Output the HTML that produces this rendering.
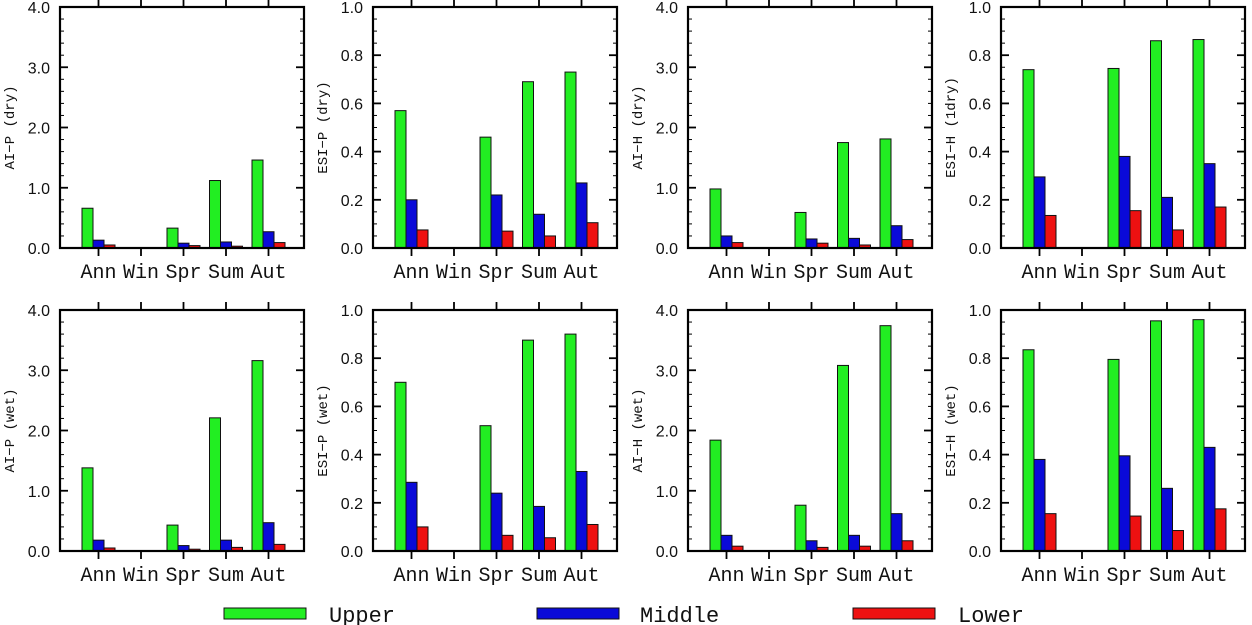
<!DOCTYPE html>
<html><head><meta charset="utf-8"><style>
body{margin:0;background:#fff;width:1252px;height:625px;overflow:hidden}
svg{display:block}
.tk{font-family:"Liberation Sans",sans-serif;font-size:16px;fill:#111}
.cat{font-family:"Liberation Mono",monospace;font-size:20px;fill:#111}
.yt{font-family:"Liberation Mono",monospace;font-size:14px;fill:#111}
.lg{font-family:"Liberation Mono",monospace;font-size:22px;fill:#111}
</style></head><body>
<svg id="c" width="1252" height="625"></svg>
<script>
const categories=["Ann","Win","Spr","Sum","Aut"];
const titles=["AI−P (dry)","ESI−P (dry)","AI−H (dry)","ESI−H (1dry)","AI−P (wet)","ESI−P (wet)","AI−H (wet)","ESI−H (wet)"];
const yMaxes=[4,1,4,1,4,1,4,1];
const upper=[[0.66,0,0.33,1.12,1.46],[0.57,0,0.46,0.69,0.73],[0.98,0,0.59,1.75,1.81],[0.74,0,0.745,0.86,0.865],
[1.38,0,0.43,2.21,3.16],[0.70,0,0.52,0.875,0.90],[1.84,0,0.76,3.08,3.74],[0.835,0,0.795,0.955,0.96]];
const middle=[[0.13,0,0.08,0.10,0.27],[0.20,0,0.22,0.14,0.27],[0.20,0,0.15,0.16,0.37],[0.295,0,0.38,0.21,0.35],
[0.18,0,0.09,0.18,0.47],[0.285,0,0.24,0.185,0.33],[0.26,0,0.17,0.26,0.62],[0.38,0,0.395,0.26,0.43]];
const lower=[[0.05,0,0.04,0.03,0.09],[0.075,0,0.07,0.05,0.105],[0.09,0,0.08,0.05,0.14],[0.135,0,0.155,0.075,0.17],
[0.05,0,0.03,0.06,0.11],[0.10,0,0.065,0.055,0.11],[0.08,0,0.06,0.08,0.17],[0.155,0,0.145,0.085,0.175]];
const seriesNames=["Upper","Middle","Lower"];
const colors=["#22ee22","#0a0ad8","#ee1111"];
const NS="http://www.w3.org/2000/svg";
const svg=document.getElementById('c');
function mk(tag,attrs,parent){const e=document.createElementNS(NS,tag);for(const k in attrs)e.setAttribute(k,attrs[k]);(parent||svg).appendChild(e);return e;}
const lefts=[60,373,688,1001],tops=[7,310],W=244,H=241;
for(let p=0;p<8;p++){
  const L=lefts[p%4],T=tops[Math.floor(p/4)],B=T+H,R=L+W,ym=yMaxes[p];
  const g=mk('g',{});
  
  
  const y=v=>B-v/ym*H;
  const x=i=>L+38.5+i*42.5;
  const data=[upper[p],middle[p],lower[p]];
  for(let s=0;s<3;s++)for(let i=0;i<5;i++){
    const v=data[s][i];if(v<=0)continue;
    const r=mk('rect',{x:x(i)-16.5+s*11,y:y(v),width:11,height:B-y(v),fill:colors[s],stroke:'#111','stroke-width':1},g);
    
    
  }
  mk('rect',{x:L,y:T,width:W,height:H,fill:'none',stroke:'#000','stroke-width':2.2},g);
  const maj=ym==4?1:0.2,min=ym==4?0.2:0.05;
  for(let v=0;v<=ym+1e-9;v+=min){
    const isM=Math.abs(v/maj-Math.round(v/maj))<1e-6,len=isM?8:4;
    mk('line',{x1:L,x2:L+len,y1:y(v),y2:y(v),stroke:'#000','stroke-width':isM?1.8:1},g);
    mk('line',{x1:R,x2:R-len,y1:y(v),y2:y(v),stroke:'#000','stroke-width':isM?1.8:1},g);
    if(isM){const t=mk('text',{x:L-10,y:y(v)+6,'text-anchor':'end',class:'tk'},g);t.textContent=v.toFixed(1);
      }
  }
  for(let i=0;i<5;i++){
    mk('line',{x1:x(i),x2:x(i),y1:B,y2:B+8,stroke:'#000','stroke-width':1.8},g);
    mk('line',{x1:x(i),x2:x(i),y1:T,y2:T-8,stroke:'#000','stroke-width':1.8},g);
    const t=mk('text',{x:x(i),y:B+30,'text-anchor':'middle',class:'cat'},g);t.textContent=categories[i];
    
  }
  const yt=mk('text',{x:0,y:0,'text-anchor':'middle',class:'yt',transform:`translate(${L-46},${T+H/2}) rotate(-90)`},g);
  yt.textContent=titles[p];
  
}
const legX=[224,537,853],txtX=[329,640,958];
for(let s=0;s<3;s++){
  const r=mk('rect',{x:legX[s],y:608,width:82,height:11,fill:colors[s],stroke:'#111','stroke-width':1});
  
  const t=mk('text',{x:txtX[s],y:622,class:'lg'});t.textContent=seriesNames[s];
  
}
</script>
</body></html>
